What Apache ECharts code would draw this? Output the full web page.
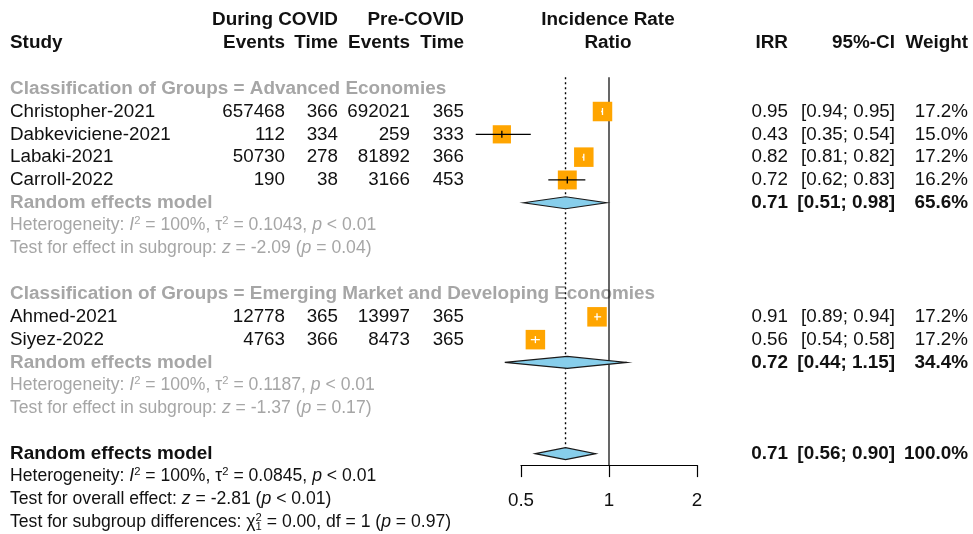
<!DOCTYPE html>
<html><head><meta charset="utf-8">
<script src="https://cdn.jsdelivr.net/npm/echarts@6/dist/echarts.min.js"></script>
<style>html,body{margin:0;padding:0;background:#fff}#c{width:973px;height:534px}</style>
</head><body><div id="c"></div>
<script>
// ---------------- data ----------------
const groupNames = ['Advanced Economies', 'Emerging Market and Developing Economies'];
const studies = ['Christopher-2021', 'Dabkeviciene-2021', 'Labaki-2021', 'Carroll-2022', 'Ahmed-2021', 'Siyez-2022'];
const studyGroup = [0, 0, 0, 0, 1, 1];
const eventsCovid = [657468, 112, 50730, 190, 12778, 4763];
const timeCovid = [366, 334, 278, 38, 365, 366];
const eventsPre = [692021, 259, 81892, 3166, 13997, 8473];
const timePre = [365, 333, 366, 453, 365, 365];
const irr = [0.95, 0.43, 0.82, 0.72, 0.91, 0.56];
const ciLow = [0.94, 0.35, 0.81, 0.62, 0.89, 0.54];
const ciHigh = [0.95, 0.54, 0.82, 0.83, 0.94, 0.58];
const weight = [17.2, 15.0, 17.2, 16.2, 17.2, 17.2];
const groupIrr = [0.71, 0.72];
const groupLow = [0.51, 0.44];
const groupHigh = [0.98, 1.15];
const groupWeight = [65.6, 34.4];
const groupI2 = ['100%', '100%'];
const groupTau2 = ['0.1043', '0.1187'];
const groupHetP = ['< 0.01', '< 0.01'];
const groupZ = ['-2.09', '-1.37'];
const groupZp = ['= 0.04', '= 0.17'];
const overallIrr = [0.71];
const overallLow = [0.56];
const overallHigh = [0.90];
const overallWeight = [100.0];
const overallI2 = ['100%'];
const overallTau2 = ['0.0845'];
const overallHetP = ['< 0.01'];
const overallZ = ['-2.81'];
const overallZp = ['< 0.01'];
const subgroupChi2 = ['0.00'];
const subgroupDf = ['1'];
const subgroupP = ['= 0.97'];
const xTicks = [0.5, 1, 2];

// ---------------- layout / style ----------------
const FONT = '"Liberation Sans", Arial, Helvetica, sans-serif';
const BLACK = '#111111';
const GREY = '#a6a6a6';
const FS = 18.8, FS_BOLD = 18.9, FS_SMALL = 17.6;
const COL = {study: 10, ev1: 285, t1: 338, ev2: 410, t2: 464, plot: 608, irr: 788, ci: 895, w: 968};

const texts = [];
function T(row, x, text, o) {
  const t = Object.assign({row: row, x: x, text: text, align: 'left', bold: false, color: BLACK, size: null, rich: false}, o || {});
  if (t.size == null) t.size = t.bold ? FS_BOLD : FS;
  texts.push(t);
}
const R = {align: 'right'};
const RB = {align: 'right', bold: true};
const fmt2 = v => v.toFixed(2);
const ciTxt = (a, b) => '[' + fmt2(a) + '; ' + fmt2(b) + ']';
const wTxt = w => w.toFixed(1) + '%';
const hetTxt = (i2, t2, p) => '{n|Heterogeneity: }{i|I}{sup|2}{n| = ' + i2 + ', τ}{sup|2}{n| = ' + t2 + ', }{i|p}{n| ' + p + '}';

// header
T(-3, COL.t1, 'During COVID', RB);
T(-3, COL.t2, 'Pre-COVID', RB);
T(-3, COL.plot, 'Incidence Rate', {align: 'center', bold: true});
T(-2, COL.study, 'Study', {bold: true});
T(-2, COL.ev1, 'Events', RB);
T(-2, COL.t1, 'Time', RB);
T(-2, COL.ev2, 'Events', RB);
T(-2, COL.t2, 'Time', RB);
T(-2, COL.plot, 'Ratio', {align: 'center', bold: true});
T(-2, COL.irr, 'IRR', RB);
T(-2, COL.ci, '95%-CI', RB);
T(-2, COL.w, 'Weight', RB);

const studyRows = [];
const diamonds = [];
let r = 0;
groupNames.forEach((g, gi) => {
  T(r, COL.study, 'Classification of Groups = ' + g, {bold: true, color: GREY}); r++;
  studies.forEach((s, i) => {
    if (studyGroup[i] !== gi) return;
    studyRows[i] = r;
    T(r, COL.study, s);
    T(r, COL.ev1, String(eventsCovid[i]), R);
    T(r, COL.t1, String(timeCovid[i]), R);
    T(r, COL.ev2, String(eventsPre[i]), R);
    T(r, COL.t2, String(timePre[i]), R);
    T(r, COL.irr, fmt2(irr[i]), R);
    T(r, COL.ci, ciTxt(ciLow[i], ciHigh[i]), R);
    T(r, COL.w, wTxt(weight[i]), R);
    r++;
  });
  T(r, COL.study, 'Random effects model', {bold: true, color: GREY});
  T(r, COL.irr, fmt2(groupIrr[gi]), RB);
  T(r, COL.ci, ciTxt(groupLow[gi], groupHigh[gi]), RB);
  T(r, COL.w, wTxt(groupWeight[gi]), RB);
  diamonds.push([groupIrr[gi], r, groupLow[gi], groupHigh[gi]]);
  r++;
  T(r, COL.study, hetTxt(groupI2[gi], groupTau2[gi], groupHetP[gi]), {rich: true, color: GREY, size: FS_SMALL}); r++;
  T(r, COL.study, '{n|Test for effect in subgroup: }{i|z}{n| = ' + groupZ[gi] + ' (}{i|p}{n| ' + groupZp[gi] + ')}', {rich: true, color: GREY, size: FS_SMALL}); r++;
  r++;
});
const overallRow = r;
T(r, COL.study, 'Random effects model', {bold: true});
T(r, COL.irr, fmt2(overallIrr[0]), RB);
T(r, COL.ci, ciTxt(overallLow[0], overallHigh[0]), RB);
T(r, COL.w, wTxt(overallWeight[0]), RB);
diamonds.push([overallIrr[0], r, overallLow[0], overallHigh[0]]);
r++;
T(r, COL.study, hetTxt(overallI2[0], overallTau2[0], overallHetP[0]), {rich: true, size: FS_SMALL}); r++;
T(r, COL.study, '{n|Test for overall effect: }{i|z}{n| = ' + overallZ[0] + ' (}{i|p}{n| ' + overallZp[0] + ')}', {rich: true, size: FS_SMALL}); r++;
T(r, COL.study, '{n|Test for subgroup differences: χ}{supz|2}{sub|1}{n| = ' + subgroupChi2[0] + ', df = ' + subgroupDf[0] + ' (}{i|p}{n| ' + subgroupP[0] + ')}', {rich: true, size: FS_SMALL});

function richStyles(color, size) {
  const base = {fontSize: size, fontFamily: FONT, fill: color, lineHeight: 20};
  const small = size * 0.64;
  return {
    n: Object.assign({}, base),
    i: Object.assign({}, base, {fontStyle: 'italic'}),
    sup: {fontSize: small, fontFamily: FONT, fill: color, verticalAlign: 'top', lineHeight: 20},
    supz: {fontSize: small, fontFamily: FONT, fill: color, verticalAlign: 'top', lineHeight: 20, width: 0},
    sub: {fontSize: small, fontFamily: FONT, fill: color, verticalAlign: 'bottom', lineHeight: 20}
  };
}

const refLines = [[1, -0.5, 16.5, 0], [overallIrr[0], -0.5, overallRow, 1]];

const chart = echarts.init(document.getElementById('c'), null, {renderer: 'canvas', width: 973, height: 534});
chart.setOption({
  animation: false,
  backgroundColor: '#ffffff',
  grid: {left: 521, right: 276, top: 77.3, bottom: 68.9, containLabel: false, outerBoundsMode: 'none'},
  xAxis: {
    type: 'log', logBase: 2, min: 0.5, max: 2, position: 'bottom',
    axisLine: {show: true, onZero: false, lineStyle: {color: '#000', width: 1.2}},
    axisTick: {show: true, length: 12, inside: false, lineStyle: {color: '#000', width: 1.2}, customValues: xTicks},
    axisLabel: {show: true, margin: 26, color: BLACK, fontSize: FS, fontFamily: FONT, customValues: xTicks,
      formatter: v => String(+(+v).toPrecision(3))},
    splitLine: {show: false}
  },
  yAxis: {type: 'value', min: -0.5, max: 16.5, inverse: true, show: false},
  series: [
    {
      type: 'custom', clip: false, z: 2, silent: true,
      encode: {x: 0, y: 1},
      data: texts.map((t, i) => [1, t.row, i]),
      renderItem: (params, api) => {
        const t = texts[api.value(2)];
        const y = api.coord([1, t.row])[1];
        const style = {
          x: t.x, y: y, text: t.text, align: t.align, verticalAlign: 'middle',
          fill: t.color, fontSize: t.size, fontFamily: FONT, fontWeight: t.bold ? 'bold' : 'normal'
        };
        if (t.rich) { style.rich = richStyles(t.color, t.size); style.lineHeight = 20; }
        return {type: 'text', style: style};
      }
    },
    {
      type: 'custom', clip: false, z: 3, silent: true,
      encode: {x: 0, y: 1},
      data: refLines,
      renderItem: (params, api) => {
        const v = api.value(0);
        const p1 = api.coord([v, api.value(1)]);
        const p2 = api.coord([v, api.value(2)]);
        const dotted = api.value(3) === 1;
        return {type: 'line', shape: {x1: p1[0], y1: p1[1], x2: p2[0], y2: p2[1]},
          style: {stroke: '#000', lineWidth: dotted ? 1.4 : 1.2, lineDash: dotted ? [2, 3] : null}};
      }
    },
    {
      type: 'custom', clip: false, z: 4, silent: true,
      encode: {x: 0, y: 1},
      data: studies.map((s, i) => [irr[i], studyRows[i], ciLow[i], ciHigh[i], weight[i]]),
      renderItem: (params, api) => {
        const row = api.value(1);
        const c = api.coord([api.value(0), row]);
        const lo = api.coord([api.value(2), row]);
        const hi = api.coord([api.value(3), row]);
        const size = 19.5 * Math.sqrt(api.value(4) / 17.2);
        const inside = lo[0] >= c[0] - size / 2 && hi[0] <= c[0] + size / 2;
        const col = inside ? '#ffffff' : '#000000';
        return {type: 'group', children: [
          {type: 'rect', shape: {x: c[0] - size / 2, y: c[1] - size / 2, width: size, height: size}, style: {fill: '#FFA500'}},
          {type: 'line', shape: {x1: lo[0], y1: c[1], x2: hi[0], y2: c[1]}, style: {stroke: col, lineWidth: 1.3}},
          {type: 'line', shape: {x1: c[0], y1: c[1] - 3.5, x2: c[0], y2: c[1] + 3.5}, style: {stroke: col, lineWidth: 1.3}}
        ]};
      }
    },
    {
      type: 'custom', clip: false, z: 5, silent: true,
      encode: {x: 0, y: 1},
      data: diamonds,
      renderItem: (params, api) => {
        const row = api.value(1);
        const c = api.coord([api.value(0), row]);
        const lo = api.coord([api.value(2), row]);
        const hi = api.coord([api.value(3), row]);
        const h = 6;
        return {type: 'polygon', shape: {points: [[lo[0], c[1]], [c[0], c[1] - h], [hi[0], c[1]], [c[0], c[1] + h]]},
          style: {fill: '#87CEEB', stroke: '#1a1a1a', lineWidth: 1.2}};
      }
    }
  ]
});
</script></body></html>
